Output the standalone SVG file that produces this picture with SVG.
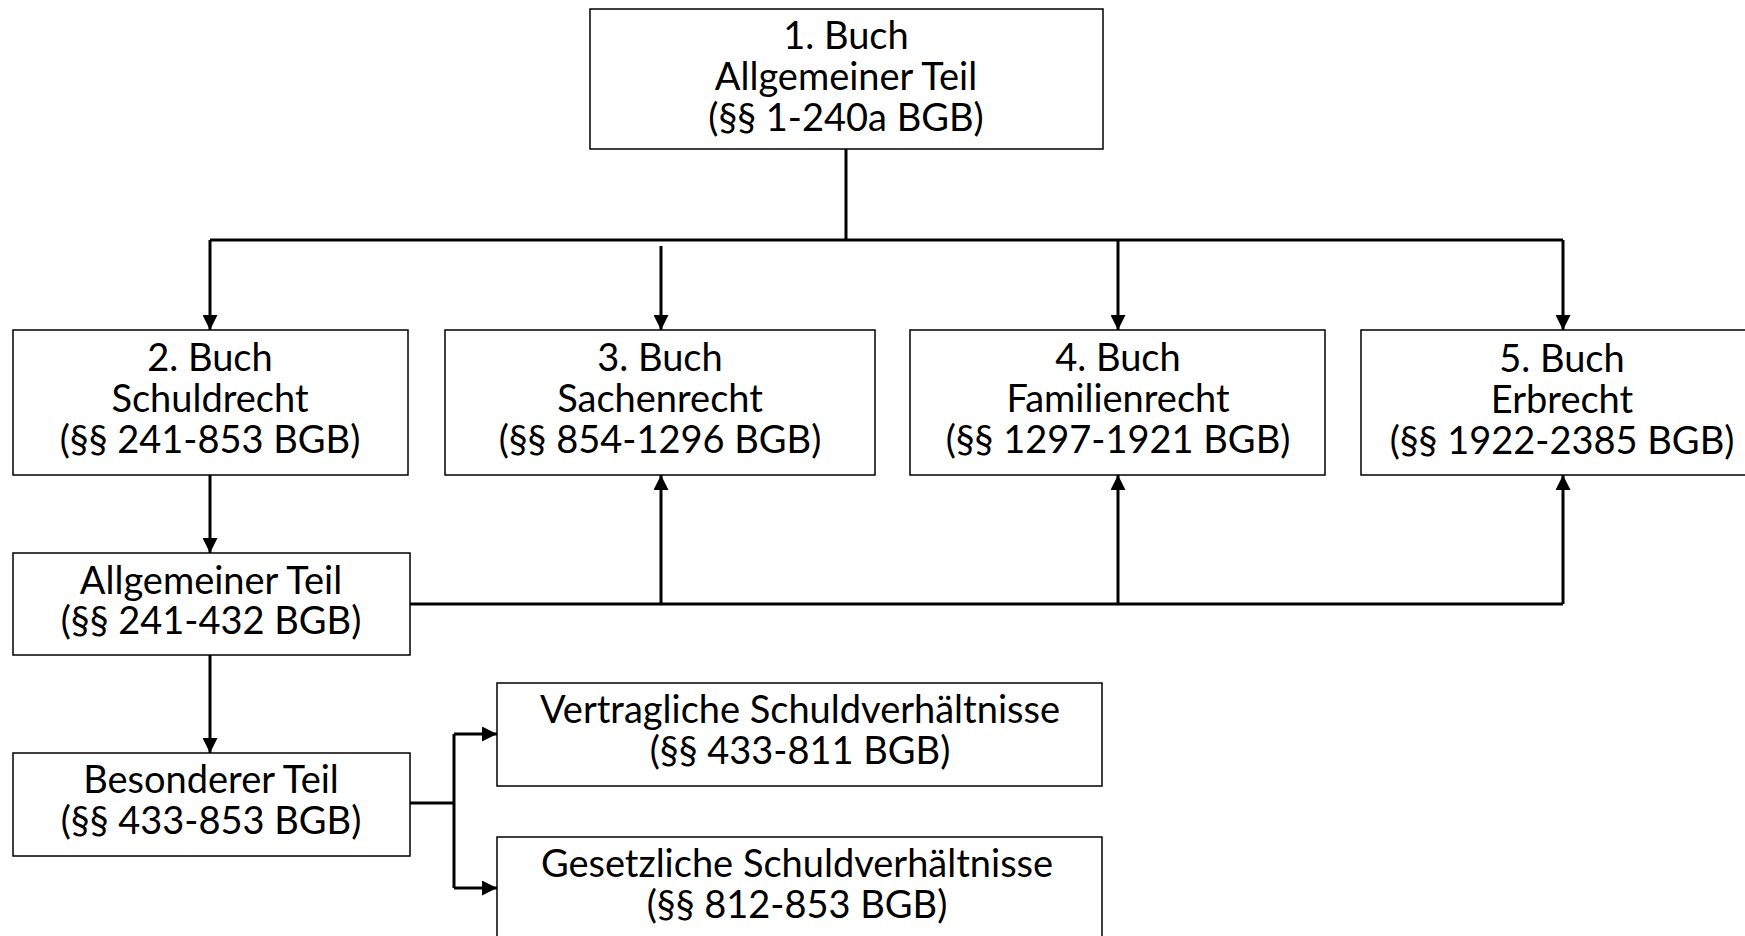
<svg xmlns="http://www.w3.org/2000/svg" width="1745" height="936" viewBox="0 0 1745 936">
<style>
.box{fill:#fff;stroke:#000;stroke-width:1.5}
.t{font-family:Lato,"Open Sans",sans-serif;font-size:38px;fill:#000;text-anchor:middle}
.c{fill:none;stroke:#000;stroke-width:3}
</style>
<defs>
<marker id="ah" viewBox="0 0 10 10" refX="10" refY="5" markerWidth="15" markerHeight="15" orient="auto" markerUnits="userSpaceOnUse">
<path d="M0,0 L10,5 L0,10 z" fill="#000"/>
</marker>
</defs>
<rect width="1745" height="936" fill="#fff"/>
<g id="connectors">
<path class="c" d="M846,149 V240"/>
<path class="c" d="M210,240 H1563"/>
<path class="c" d="M210,240 V330" marker-end="url(#ah)"/>
<path class="c" d="M661,246 V330" marker-end="url(#ah)"/>
<path class="c" d="M1118,240 V330" marker-end="url(#ah)"/>
<path class="c" d="M1563,240 V330" marker-end="url(#ah)"/>
<path class="c" d="M210,475 V553" marker-end="url(#ah)"/>
<path class="c" d="M410,604 H1563"/>
<path class="c" d="M661,604 V475" marker-end="url(#ah)"/>
<path class="c" d="M1118,604 V475" marker-end="url(#ah)"/>
<path class="c" d="M1563,604 V475" marker-end="url(#ah)"/>
<path class="c" d="M210,655 V753" marker-end="url(#ah)"/>
<path class="c" d="M410,803 H454"/>
<path class="c" d="M454,734 V888"/>
<path class="c" d="M454,734 H497" marker-end="url(#ah)"/>
<path class="c" d="M454,888 H497" marker-end="url(#ah)"/>
</g>
<g id="n1"><rect class="box" x="590" y="9" width="513" height="140"/>
<text class="t" x="846" y="49">1. Buch</text><text class="t" x="846" y="90">Allgemeiner Teil</text><text class="t" x="846" y="131">(§§ 1-240a BGB)</text></g>
<g id="n2"><rect class="box" x="13" y="330" width="395" height="145"/>
<text class="t" x="210" y="371">2. Buch</text><text class="t" x="210" y="412">Schuldrecht</text><text class="t" x="210" y="453">(§§ 241-853 BGB)</text></g>
<g id="n3"><rect class="box" x="445" y="330" width="430" height="145"/>
<text class="t" x="660" y="371">3. Buch</text><text class="t" x="660" y="412">Sachenrecht</text><text class="t" x="660" y="453">(§§ 854-1296 BGB)</text></g>
<g id="n4"><rect class="box" x="910" y="330" width="415" height="145"/>
<text class="t" x="1118" y="371">4. Buch</text><text class="t" x="1118" y="412">Familienrecht</text><text class="t" x="1118" y="453">(§§ 1297-1921 BGB)</text></g>
<g id="n5"><rect class="box" x="1361" y="330" width="390" height="145"/>
<text class="t" x="1562" y="372">5. Buch</text><text class="t" x="1562" y="413">Erbrecht</text><text class="t" x="1562" y="454">(§§ 1922-2385 BGB)</text></g>
<g id="n6"><rect class="box" x="13" y="553" width="397" height="102"/>
<text class="t" x="211" y="594">Allgemeiner Teil</text><text class="t" x="211" y="634">(§§ 241-432 BGB)</text></g>
<g id="n7"><rect class="box" x="13" y="753" width="397" height="103"/>
<text class="t" x="211" y="793">Besonderer Teil</text><text class="t" x="211" y="834">(§§ 433-853 BGB)</text></g>
<g id="n8"><rect class="box" x="497" y="683" width="605" height="103"/>
<text class="t" x="800" y="723">Vertragliche Schuldverhältnisse</text><text class="t" x="800" y="764">(§§ 433-811 BGB)</text></g>
<g id="n9"><rect class="box" x="497" y="837" width="605" height="110"/>
<text class="t" x="797" y="877">Gesetzliche Schuldverhältnisse</text><text class="t" x="797" y="918">(§§ 812-853 BGB)</text></g>
</svg>
